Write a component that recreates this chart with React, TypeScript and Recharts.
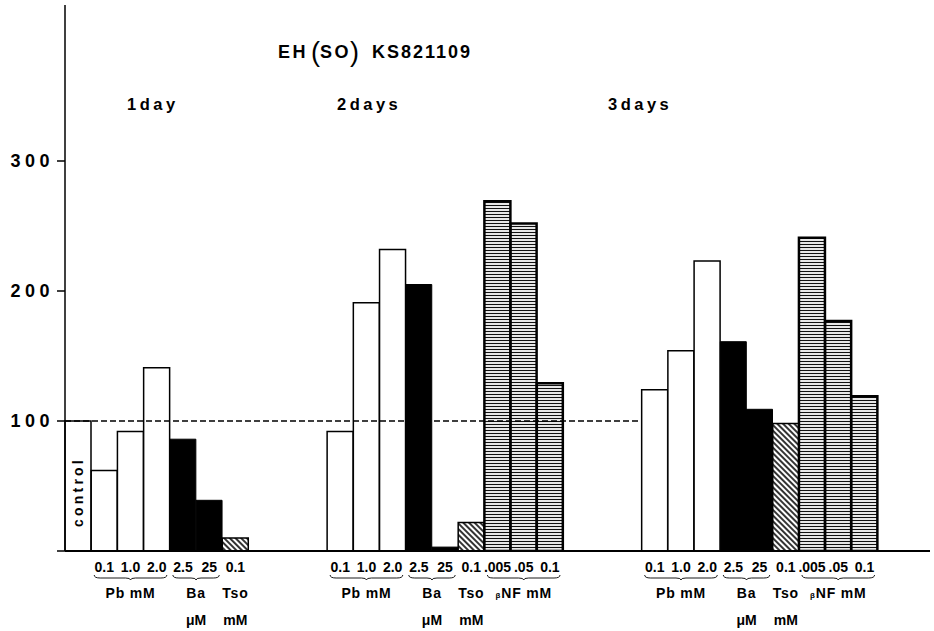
import React from 'react';
import { ComposedChart, Bar, XAxis, YAxis, Cell, ReferenceLine, LabelList } from 'recharts';

const FONT = '"Liberation Sans", Arial, Helvetica, sans-serif';

// ---- data ----
const titleText = 'KS821109';
const dayLabels = ['1day', '2days', '3days'];

const pbDoses = ['0.1', '1.0', '2.0'];
const baDoses = ['2.5', '25'];
const tsoDoses = ['0.1'];
const bnfDoses = ['.005', '.05', '0.1'];

const controlValue = 100;
const day1Pb = [62, 92, 141];
const day1Ba = [86, 39];
const day1Tso = [10];

const day2Pb = [92, 191, 232];
const day2Ba = [205, 3];
const day2Tso = [22];
const day2Bnf = [269, 252, 129];

const day3Pb = [124, 154, 223];
const day3Ba = [161, 109];
const day3Tso = [98];
const day3Bnf = [241, 177, 119];

const yTicks = [0, 100, 200, 300];
const yDomain = [0, 420];
const referenceValue = 100;

type Group = { name: string; prefix?: string; unit: string; span: number; brace: boolean };
const pbGroup: Group = { name: 'Pb mM', unit: '', span: 3, brace: true };
const baGroup: Group = { name: 'Ba', unit: 'μM', span: 2, brace: true };
const tsoGroup: Group = { name: 'Tso', unit: 'mM', span: 1, brace: false };
const bnfGroup: Group = { name: 'NF mM', prefix: 'β', unit: '', span: 3, brace: true };

type Row = { slot: string; dose: string; value: number | null; kind: string; group?: Group };
const rows: Row[] = [];
let n = 0;
const push = (dose: string, value: number | null, kind: string, group?: Group) => {
  rows.push({ slot: 's' + n, dose, value, kind, group });
  n += 1;
};
const pushGap = (k: number) => {
  for (let i = 0; i < k; i++) push('', null, 'none');
};
const pushSeries = (doses: string[], values: number[], kind: string, group: Group) => {
  doses.forEach((d, i) => push(d, values[i], kind, i === 0 ? group : undefined));
};

push('', controlValue, 'control');
pushSeries(pbDoses, day1Pb, 'plain', pbGroup);
pushSeries(baDoses, day1Ba, 'black', baGroup);
pushSeries(tsoDoses, day1Tso, 'hatch', tsoGroup);
pushGap(3);
pushSeries(pbDoses, day2Pb, 'plain', pbGroup);
pushSeries(baDoses, day2Ba, 'black', baGroup);
pushSeries(tsoDoses, day2Tso, 'hatch', tsoGroup);
pushSeries(bnfDoses, day2Bnf, 'hlines', bnfGroup);
pushGap(3);
pushSeries(pbDoses, day3Pb, 'plain', pbGroup);
pushSeries(baDoses, day3Ba, 'black', baGroup);
pushSeries(tsoDoses, day3Tso, 'hatch', tsoGroup);
pushSeries(bnfDoses, day3Bnf, 'hlines', bnfGroup);
pushGap(2);

const refStart = rows[0].slot;
const refEnd = rows[22].slot;

const cellStyle = (kind: string) => {
  switch (kind) {
    case 'black':
      return { fill: '#000', stroke: '#000', strokeWidth: 1 };
    case 'hatch':
      return { fill: 'url(#hatchPat)', stroke: '#000', strokeWidth: 1.5 };
    case 'hlines':
      return { fill: 'url(#hlinePat)', stroke: '#000', strokeWidth: 2.5 };
    default:
      return { fill: '#fff', stroke: '#000', strokeWidth: 1.5 };
  }
};

const XTick = (props: any) => {
  const { x, y, payload } = props;
  const row = rows.find((r) => r.slot === payload.value);
  if (!row) return null;
  const half = typeof payload.offset === 'number' && payload.offset > 0 ? payload.offset : 13.1;
  const g = row.group;
  const els: any[] = [];
  if (row.dose) {
    els.push(
      <text key="d" x={x} y={y + 21} textAnchor="middle" fontFamily={FONT} fontWeight="bold" fontSize={14} fill="#000">
        {row.dose}
      </text>
    );
  }
  if (g) {
    const cx = x + (g.span - 1) * half;
    if (g.brace) {
      const x1 = x - half + 3;
      const x2 = x + (2 * g.span - 1) * half - 3;
      const yb = y + 27;
      const d = `M ${x1} ${yb - 3} Q ${x1} ${yb} ${x1 + 6} ${yb} L ${cx - 5} ${yb} Q ${cx} ${yb} ${cx} ${yb + 2} Q ${cx} ${yb} ${cx + 5} ${yb} L ${x2 - 6} ${yb} Q ${x2} ${yb} ${x2} ${yb - 3}`;
      els.push(<path key="b" d={d} fill="none" stroke="#000" strokeWidth={0.9} />);
    }
    els.push(
      <text key="g" x={cx} y={y + 47} textAnchor="middle" fontFamily={FONT} fontWeight="bold" fontSize={14} fill="#000" letterSpacing={0.8}>
        {g.prefix ? <tspan fontSize={8}>{g.prefix}</tspan> : null}
        {g.name}
      </text>
    );
    if (g.unit) {
      els.push(
        <text key="u" x={cx} y={y + 74} textAnchor="middle" fontFamily={FONT} fontWeight="bold" fontSize={14} fill="#000">
          {g.unit}
        </text>
      );
    }
  }
  return <g>{els}</g>;
};

const YTick = (props: any) => {
  const { x, y, payload } = props;
  if (payload.value === 0) return null;
  return (
    <text x={x} y={y + 6} textAnchor="end" fontFamily={FONT} fontWeight="bold" fontSize={18} fill="#000" letterSpacing={4.5}>
      {payload.value}
    </text>
  );
};

const ControlLabel = (props: any) => {
  const { x, y, width, height, index } = props;
  if (index !== 0) return null;
  const cx = Number(x) + Number(width) / 2;
  const cy = Number(y) + Number(height) / 2 + 6;
  return (
    <text
      x={cx}
      y={cy}
      transform={`rotate(-90 ${cx} ${cy})`}
      textAnchor="middle"
      dominantBaseline="central"
      fontFamily={FONT}
      fontWeight="bold"
      fontSize={14}
      letterSpacing={3.2}
      fill="#000"
    >
      control
    </text>
  );
};

export default function App() {
  return (
    <div style={{ position: 'absolute', left: 0, top: 0, width: 934, height: 631, background: '#fff' }}>
      <svg width={0} height={0} style={{ position: 'absolute' }}>
        <defs>
          <pattern id="hatchPat" patternUnits="userSpaceOnUse" width={4} height={4} patternTransform="rotate(45)">
            <rect width={4} height={4} fill="#fff" />
            <line x1={0} y1={2} x2={4} y2={2} stroke="#000" strokeWidth={1.6} />
          </pattern>
          <pattern id="hlinePat" patternUnits="userSpaceOnUse" width={6} height={3}>
            <rect width={6} height={3} fill="#fff" />
            <line x1={0} y1={1.5} x2={6} y2={1.5} stroke="#111" strokeWidth={1.2} />
          </pattern>
        </defs>
      </svg>
      <ComposedChart
        width={934}
        height={631}
        data={rows}
        margin={{ top: 5, right: 4, bottom: 0, left: 0 }}
        barCategoryGap={0}
        barGap={0}
      >
        <XAxis
          dataKey="slot"
          interval={0}
          tickLine={false}
          tickSize={0}
          tickMargin={0}
          axisLine={{ stroke: '#000', strokeWidth: 2 }}
          height={80}
          tick={<XTick />}
        />
        <YAxis
          type="number"
          domain={yDomain}
          ticks={yTicks}
          allowDataOverflow
          width={65}
          tickSize={8}
          tickMargin={3}
          axisLine={{ stroke: '#000', strokeWidth: 1.5 }}
          tickLine={{ stroke: '#000', strokeWidth: 1.5 }}
          tick={<YTick />}
        />
        <ReferenceLine
          segment={[
            { x: refStart, y: referenceValue },
            { x: refEnd, y: referenceValue },
          ]}
          position="start"
          stroke="#000"
          strokeWidth={1.6}
          strokeDasharray="6 3"
        />
        <Bar dataKey="value" isAnimationActive={false}>
          {rows.map((r, i) => {
            const s = cellStyle(r.kind);
            return <Cell key={i} fill={s.fill} stroke={s.stroke} strokeWidth={s.strokeWidth} />;
          })}
          <LabelList dataKey="value" content={ControlLabel} />
        </Bar>
        <text x={278} y={58} fontFamily={FONT} fontWeight="bold" fontSize={18} letterSpacing={2.5} fill="#000">
          EH
        </text>
        <text x={311} y={61} fontFamily={FONT} fontWeight="normal" fontSize={27} fill="#000">
          (
        </text>
        <text x={320} y={58} fontFamily={FONT} fontWeight="bold" fontSize={18} letterSpacing={2.5} fill="#000">
          SO
        </text>
        <text x={350} y={61} fontFamily={FONT} fontWeight="normal" fontSize={27} fill="#000">
          )
        </text>
        <text x={372} y={58} fontFamily={FONT} fontWeight="bold" fontSize={18} letterSpacing={2} fill="#000">
          {titleText}
        </text>
        <text x={127} y={110} fontFamily={FONT} fontWeight="bold" fontSize={16.5} letterSpacing={3.5} fill="#000">
          {dayLabels[0]}
        </text>
        <text x={337} y={110} fontFamily={FONT} fontWeight="bold" fontSize={16.5} letterSpacing={3.5} fill="#000">
          {dayLabels[1]}
        </text>
        <text x={608} y={110} fontFamily={FONT} fontWeight="bold" fontSize={16.5} letterSpacing={3.5} fill="#000">
          {dayLabels[2]}
        </text>
      </ComposedChart>
    </div>
  );
}
